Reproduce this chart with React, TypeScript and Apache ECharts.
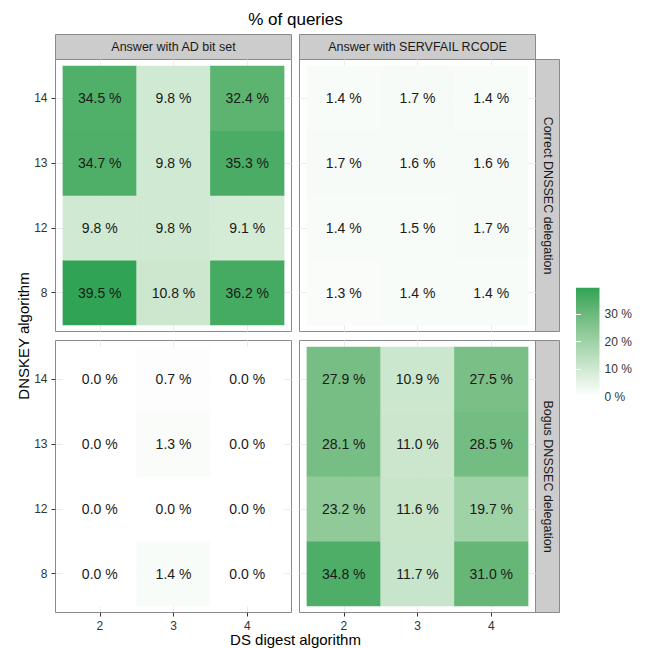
import React, { useEffect, useRef } from 'react';
import * as echarts from 'echarts';

// ---------- data ----------
const X_LEVELS = ['2', '3', '4'];
const Y_LEVELS = ['8', '12', '13', '14'];
const COL_FACETS = ['Answer with AD bit set', 'Answer with SERVFAIL RCODE'];
const ROW_FACETS = ['Correct DNSSEC delegation', 'Bogus DNSSEC delegation'];

// rows follow Y_LEVELS (8, 12, 13, 14), columns follow X_LEVELS (2, 3, 4); values in %
const CORRECT_AD = [
  [39.5, 10.8, 36.2],
  [9.8, 9.8, 9.1],
  [34.7, 9.8, 35.3],
  [34.5, 9.8, 32.4],
];
const CORRECT_SERVFAIL = [
  [1.3, 1.4, 1.4],
  [1.4, 1.5, 1.7],
  [1.7, 1.6, 1.6],
  [1.4, 1.7, 1.4],
];
const BOGUS_AD = [
  [0.0, 1.4, 0.0],
  [0.0, 0.0, 0.0],
  [0.0, 1.3, 0.0],
  [0.0, 0.7, 0.0],
];
const BOGUS_SERVFAIL = [
  [34.8, 11.7, 31.0],
  [23.2, 11.6, 19.7],
  [28.1, 11.0, 28.5],
  [27.9, 10.9, 27.5],
];
const LEGEND_BREAKS = [0, 10, 20, 30];
const TITLE = '% of queries';
const X_TITLE = 'DS digest algorithm';
const Y_TITLE = 'DNSKEY algorithm';

// ---------- styles / layout ----------
const COLOR_STOPS = ['#ffffff', '#d0e9d2', '#a0d2a7', '#6eba7d', '#31a354'];
const FONT = '"Liberation Sans", Arial, Helvetica, sans-serif';
const BORDER = '#8a8a8a';
const STRIP_FILL = '#cccccc';
const GRID_LINE = '#ebebeb';
const TEXT = '#1a1a1a';
const AXIS_TEXT = '#333333';

const PANEL_LEFT = [55.5, 299.5];
const PANEL_TOP = [59.5, 340.5];
const PANEL_W = 236;
const PANEL_H = 272;
const PAD_X = (PANEL_W * 0.1) / 3.2;
const PAD_Y = (PANEL_H * 0.1) / 4.2;
const STRIP_H = 25;
const STRIP_W = 24;

const LEGEND_LEFT = 576;
const LEGEND_W = 23.5;
const LEGEND_BOTTOM = 396.7;
const LEGEND_BAR_H = 109;

const PANELS = [
  { values: CORRECT_AD, col: 0, row: 0 },
  { values: CORRECT_SERVFAIL, col: 1, row: 0 },
  { values: BOGUS_AD, col: 0, row: 1 },
  { values: BOGUS_SERVFAIL, col: 1, row: 1 },
];

const SCALE_MAX = Math.max(...PANELS.flatMap((p) => p.values.flat()));
const LEGEND_AXIS_MAX = LEGEND_BREAKS[LEGEND_BREAKS.length - 1] + (LEGEND_BREAKS[1] - LEGEND_BREAKS[0]);

function buildOption(): any {
  const grids: any[] = [];
  const xAxes: any[] = [];
  const yAxes: any[] = [];
  const series: any[] = [];

  PANELS.forEach((p, i) => {
    const left = PANEL_LEFT[p.col];
    const top = PANEL_TOP[p.row];
    const isBottom = p.row === 1;
    const isLeft = p.col === 0;
    // panel grid: border + major grid lines
    grids.push({
      left, top, width: PANEL_W, height: PANEL_H,
      show: true, borderColor: BORDER, borderWidth: 1, backgroundColor: '#ffffff',
      outerBoundsMode: 'none',
    });
    // tile grid
    grids.push({
      left: left + PAD_X, top: top + PAD_Y,
      width: PANEL_W - 2 * PAD_X, height: PANEL_H - 2 * PAD_Y,
      outerBoundsMode: 'none',
    });
    const hidden = { axisLine: { show: false }, axisTick: { show: false }, axisLabel: { show: false } };
    const split = {
      show: true, showMinLine: false, showMaxLine: false,
      lineStyle: { color: GRID_LINE, width: 1 },
    };
    xAxes.push({
      type: 'value', gridIndex: 2 * i, min: -0.6, max: X_LEVELS.length - 1 + 0.6,
      minInterval: 1, maxInterval: 1, splitNumber: 3, ...hidden, splitLine: split,
    });
    yAxes.push({
      type: 'value', gridIndex: 2 * i, min: -0.6, max: Y_LEVELS.length - 1 + 0.6,
      minInterval: 1, maxInterval: 1, splitNumber: 4, ...hidden, splitLine: split,
    });
    xAxes.push({
      type: 'category', gridIndex: 2 * i + 1, data: X_LEVELS, position: 'bottom',
      offset: PAD_Y, axisLine: { show: false },
      axisTick: { show: isBottom, alignWithLabel: true, length: 4, lineStyle: { color: AXIS_TEXT, width: 1 } },
      axisLabel: { show: isBottom, margin: 7, color: AXIS_TEXT, fontSize: 12, fontFamily: FONT },
      splitLine: { show: false },
    });
    yAxes.push({
      type: 'category', gridIndex: 2 * i + 1, data: Y_LEVELS, position: 'left',
      offset: PAD_X, axisLine: { show: false },
      axisTick: { show: isLeft, alignWithLabel: true, length: 4, lineStyle: { color: AXIS_TEXT, width: 1 } },
      axisLabel: { show: isLeft, margin: 8, color: AXIS_TEXT, fontSize: 12, fontFamily: FONT },
      splitLine: { show: false },
    });
    const data: any[] = [];
    p.values.forEach((row, yi) => row.forEach((v, xi) => data.push([xi, yi, v])));
    series.push({
      type: 'heatmap', xAxisIndex: 2 * i + 1, yAxisIndex: 2 * i + 1, data,
      itemStyle: { borderWidth: 0 },
      emphasis: { disabled: true },
      label: {
        show: true, color: TEXT, fontSize: 14, fontFamily: FONT,
        formatter: (prm: any) => `${Number(prm.value[2]).toFixed(1)} %`,
      },
    });
  });

  // legend colourbar grid
  const legendGridH = (LEGEND_BAR_H * LEGEND_AXIS_MAX) / SCALE_MAX;
  grids.push({
    left: LEGEND_LEFT, top: LEGEND_BOTTOM - legendGridH, width: LEGEND_W, height: legendGridH,
    outerBoundsMode: 'none',
  });
  const legendGridIndex = grids.length - 1;
  xAxes.push({ type: 'value', gridIndex: legendGridIndex, min: 0, max: 1, show: false });
  const legendX = xAxes.length - 1;
  const legendTick = { show: true, inside: true, length: 5, lineStyle: { color: '#ffffff', width: 1 } };
  yAxes.push({
    type: 'value', gridIndex: legendGridIndex, position: 'right', min: 0, max: LEGEND_AXIS_MAX,
    interval: LEGEND_BREAKS[1] - LEGEND_BREAKS[0], z: 5,
    axisLine: { show: false }, splitLine: { show: false }, axisTick: legendTick,
    axisLabel: {
      show: true, margin: 5, color: AXIS_TEXT, fontSize: 12, fontFamily: FONT,
      formatter: (v: number) => (LEGEND_BREAKS.includes(v) ? `${v} %` : ''),
    },
  });
  const legendY = yAxes.length - 1;
  yAxes.push({
    type: 'value', gridIndex: legendGridIndex, position: 'left', min: 0, max: LEGEND_AXIS_MAX,
    interval: LEGEND_BREAKS[1] - LEGEND_BREAKS[0], z: 5,
    axisLine: { show: false }, splitLine: { show: false }, axisTick: legendTick,
    axisLabel: { show: false },
  });
  const gradient = new echarts.graphic.LinearGradient(
    0, 1, 0, 0,
    COLOR_STOPS.map((c, k) => ({ offset: k / (COLOR_STOPS.length - 1), color: c }))
  );
  series.push({
    type: 'custom', xAxisIndex: legendX, yAxisIndex: legendY, silent: true, z: 1,
    data: [[1, SCALE_MAX]],
    renderItem: (_params: any, api: any) => {
      const p0 = api.coord([0, 0]);
      const p1 = api.coord([api.value(0), api.value(1)]);
      return {
        type: 'rect',
        shape: { x: p0[0], y: p1[1], width: p1[0] - p0[0], height: p0[1] - p1[1] },
        style: { fill: gradient },
      };
    },
  });

  // strips, titles
  const graphics: any[] = [];
  COL_FACETS.forEach((label, c) => {
    graphics.push({
      type: 'rect', shape: { x: PANEL_LEFT[c], y: PANEL_TOP[0] - STRIP_H, width: PANEL_W, height: STRIP_H },
      style: { fill: STRIP_FILL, stroke: BORDER, lineWidth: 1 }, silent: true,
    });
    graphics.push({
      type: 'text', x: PANEL_LEFT[c] + PANEL_W / 2, y: PANEL_TOP[0] - STRIP_H / 2,
      style: { text: label, align: 'center', verticalAlign: 'middle', fill: TEXT, fontSize: 12.5, fontFamily: FONT },
      silent: true,
    });
  });
  const stripX = PANEL_LEFT[1] + PANEL_W;
  ROW_FACETS.forEach((label, r) => {
    graphics.push({
      type: 'rect', shape: { x: stripX, y: PANEL_TOP[r], width: STRIP_W, height: PANEL_H },
      style: { fill: STRIP_FILL, stroke: BORDER, lineWidth: 1 }, silent: true,
    });
    graphics.push({
      type: 'text', x: stripX + STRIP_W / 2, y: PANEL_TOP[r] + PANEL_H / 2, rotation: -Math.PI / 2,
      style: { text: label, align: 'center', verticalAlign: 'middle', fill: TEXT, fontSize: 12.5, fontFamily: FONT },
      silent: true,
    });
  });
  const plotCenterX = (PANEL_LEFT[0] + PANEL_LEFT[1] + PANEL_W) / 2;
  const plotCenterY = (PANEL_TOP[0] + PANEL_TOP[1] + PANEL_H) / 2;
  graphics.push({
    type: 'text', x: plotCenterX, y: 19,
    style: { text: TITLE, align: 'center', verticalAlign: 'middle', fill: '#000', fontSize: 17, fontFamily: FONT },
    silent: true,
  });
  graphics.push({
    type: 'text', x: plotCenterX, y: 639.5,
    style: { text: X_TITLE, align: 'center', verticalAlign: 'middle', fill: '#000', fontSize: 15, fontFamily: FONT },
    silent: true,
  });
  graphics.push({
    type: 'text', x: 23, y: plotCenterY, rotation: Math.PI / 2,
    style: { text: Y_TITLE, align: 'center', verticalAlign: 'middle', fill: '#000', fontSize: 15, fontFamily: FONT },
    silent: true,
  });

  return {
    animation: false,
    backgroundColor: '#ffffff',
    textStyle: { fontFamily: FONT },
    grid: grids,
    xAxis: xAxes,
    yAxis: yAxes,
    visualMap: {
      type: 'continuous', show: false, min: 0, max: SCALE_MAX, dimension: 2,
      seriesIndex: [0, 1, 2, 3], inRange: { color: COLOR_STOPS },
    },
    series,
    graphic: graphics,
  };
}

export default function App() {
  const ref = useRef<HTMLDivElement>(null);
  useEffect(() => {
    const chart = echarts.init(ref.current!, null, { renderer: 'svg' });
    chart.setOption(buildOption());
    return () => chart.dispose();
  }, []);
  return <div ref={ref} style={{ position: 'fixed', left: 0, top: 0, width: 646, height: 648 }} />;
}
